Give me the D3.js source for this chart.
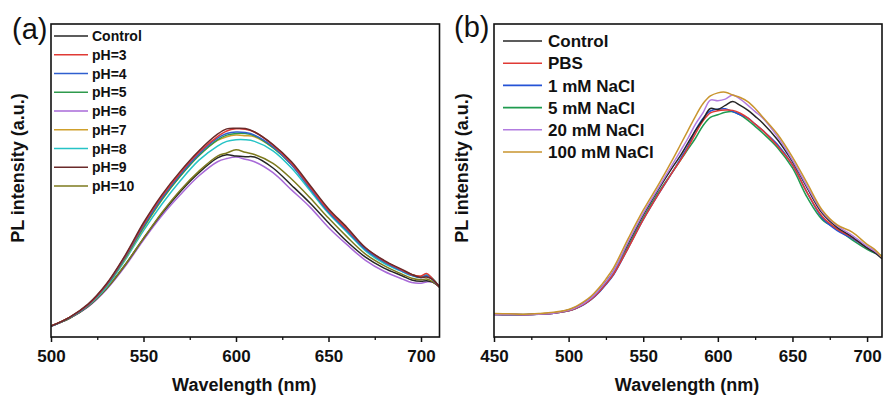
<!DOCTYPE html>
<html><head><meta charset="utf-8">
<script src="https://cdn.jsdelivr.net/npm/d3@7/dist/d3.min.js"></script>
<style>body{margin:0;background:#fff}svg{display:block}text{font-family:"Liberation Sans",Arial,sans-serif}</style>
</head><body><div id="chart"></div>
<script>
// ---------- Panel (a) data ----------
const wlA = [500,510,520,530,540,550,560,570,580,590,595,600,605,610,620,630,640,650,660,670,680,690,695,700,703,706,710];
const namesA = ["Control","pH=3","pH=4","pH=5","pH=6","pH=7","pH=8","pH=9","pH=10"];
const colorsA = ["#262626","#e03a35","#2f5fcf","#2e9a4c","#a86ad8","#cfa02c","#26c3c6","#6a2a2a","#7d7a1e"];
const controlA = [3.5,6,9.8,15.5,23,31.5,39.5,46.5,52.5,57.2,58.2,57.8,57.6,57.5,54,48.5,42.8,36.5,30.5,25.5,22,19.5,18.2,17.8,18,17.6,16];
const pH3 = [3.5,6.3,10.3,16.8,25.8,36,45,52.5,59,64,65.8,66.5,66.4,65.5,61.3,55.5,48,40.5,34.5,28.5,24.3,21.3,19.9,19.5,20.3,18.8,16];
const pH4 = [3.4,6.2,10.2,16.6,25.5,35.5,44.5,52,58.5,63.5,65,65.5,65.3,64.5,60.8,55,47.5,40,34,28,24,21,19.7,19,19.6,18.5,16];
const pH5 = [3.4,6.2,10.2,16.5,25.2,35,44,51.5,58,63,64.5,65,65,64.3,60.5,55,47.5,40,34,28,24,21.2,19.8,19.2,19.4,18.6,16];
const pH6 = [3.5,6,9.6,15.2,22.5,31,38.8,45.5,51.5,56,57,57.5,56.8,56,52.5,47,41.5,35,29.5,24.5,21,18.5,17.4,17.2,17.6,17.6,16];
const pH7 = [3.5,6.3,10.3,16.5,25,34.8,43.8,51.5,58,62.8,64,64.5,64.3,64,60.5,55.2,48,40.5,34.5,28.3,24.2,21.3,20,19.2,19.3,18.6,16];
const pH8 = [3.4,6.1,10,16,24.5,34,42.5,50,56.5,61,62.5,63,63,62.5,59.5,54,46.8,39.5,33.5,27.5,23.5,20.8,19.6,19,19.9,18.8,16];
const pH9 = [3.5,6.3,10.5,17,26,36.5,45.5,53,59.5,64.8,66.5,66.7,66.6,65.5,61.5,56,48.5,41,35,28.5,24.5,21.5,20,19,19.2,18.5,16];
const pH10 = [3.5,6,9.8,15.5,23,31.5,39.8,47,53,57.8,58.8,59.8,59,58.3,55.5,50.5,44.5,38,32,26.5,22.8,20,18.8,18.3,18.5,17.8,16];
const seriesA = [controlA,pH3,pH4,pH5,pH6,pH7,pH8,pH9,pH10];
const ticksA = [500,550,600,650,700];

// ---------- Panel (b) data ----------
const wlB = [450,460,470,480,490,500,505,510,515,520,525,530,540,550,560,570,575,580,585,590,595,600,605,610,615,620,625,630,640,650,660,670,680,690,700,705,710];
const namesB = ["Control","PBS","1 mM NaCl","5 mM NaCl","20 mM NaCl","100 mM NaCl"];
const colorsB = ["#262626","#e03a35","#2553d6","#1f9b4f","#b27ce0","#c9952e"];
const controlB = [7.3,7.2,7.2,7.4,7.7,8.6,9.5,10.8,12.5,14.8,17.6,21,30,39,47,54.5,58,62,66,69.5,73,72.7,74,75.2,74,72.5,70.5,68.4,63,56,47.5,39.5,35,32,28.5,27,25];
const pbs = [7.2,7.2,7.1,7.3,7.6,8.4,9.2,10.4,12,14.2,17,20,28.5,37.5,45.5,53,56.5,60.5,65,69,71.6,72.3,72.5,72.4,71.5,70,68,66,61,55,46,38.5,34.5,31.8,28.5,27.2,25.5];
const nacl1 = [7.2,7.1,7.1,7.3,7.6,8.4,9.2,10.3,11.9,14.1,16.8,19.8,28.5,37.5,45.5,53,57,61,66,69.8,72.2,72.8,72.9,72,71,70,68,66,61.5,55,46,38,34,31.5,28.5,27,25.5];
const nacl5 = [7.2,7.2,7.1,7.3,7.6,8.4,9.2,10.4,12,14.2,17,20,29,38,46,53,56.5,60,63.5,67.5,70.2,71,71.8,72,71,69.3,67.3,65.2,60.5,54,44.5,37.5,34.5,31,28,26.8,26];
const nacl20 = [7.2,7.2,7.1,7.3,7.6,8.5,9.4,10.7,12.4,14.8,17.6,21,30.5,39.5,47.5,55.5,59.5,63.5,68,71.6,75.7,75.5,76,77.3,76,74.1,72,70,64,56.5,48,40,35.5,32.5,29,27.5,25.5];
const nacl100 = [7.5,7.4,7.3,7.5,7.9,8.8,9.8,11.2,13,15.5,18.5,22,31.5,40.5,48.5,57,61.5,66,70.5,74.5,77,78,78.2,77.3,76.5,75.2,73,70.3,64.8,57.5,49,40.5,35.8,33.5,29.6,28,25.5];
const seriesB = [controlB,pbs,nacl1,nacl5,nacl20,nacl100];
const ticksB = [450,500,550,600,650,700];

const W = 884, H = 396;
const svg = d3.select("#chart").append("svg").attr("width", W).attr("height", H);

function panel(cfg) {
  const x = d3.scaleLinear().domain(cfg.xDomain).range([cfg.left, cfg.right]);
  const y = d3.scaleLinear().domain([0, 100]).range([cfg.bottom, cfg.top]);
  const g = svg.append("g");
  const clipId = "clip" + cfg.id;
  svg.append("clipPath").attr("id", clipId).append("rect")
    .attr("x", cfg.left).attr("y", cfg.top).attr("width", cfg.right - cfg.left).attr("height", cfg.bottom - cfg.top);

  const line = d3.line().x((d, i) => x(cfg.wl[i])).y(d => y(d)).curve(d3.curveCatmullRom.alpha(0.5));
  const cg = g.append("g").attr("clip-path", `url(#${clipId})`);
  cfg.order.forEach(k => {
    cg.append("path").attr("d", line(cfg.series[k])).attr("fill", "none")
      .attr("stroke", cfg.colors[k]).attr("stroke-width", 1.5).attr("stroke-linejoin", "round");
  });

  const minor = d3.range(cfg.xDomain[0], cfg.xDomain[1] + 1, 25).filter(v => !cfg.ticks.includes(v));
  const axMinor = d3.axisBottom(x).tickValues(minor).tickSize(3).tickFormat("");
  g.append("g").attr("transform", `translate(0,${cfg.bottom})`).call(axMinor)
    .call(s => s.select(".domain").remove())
    .call(s => s.selectAll("line").attr("stroke", "#111").attr("stroke-width", 1.3));
  const axMajor = d3.axisBottom(x).tickValues(cfg.ticks).tickSize(5).tickPadding(8).tickFormat(d3.format("d"));
  g.append("g").attr("transform", `translate(0,${cfg.bottom})`).call(axMajor)
    .call(s => s.select(".domain").remove())
    .call(s => s.selectAll("line").attr("stroke", "#111").attr("stroke-width", 1.5))
    .call(s => s.selectAll("text").attr("font-size", 17).attr("font-weight", "bold").attr("fill", "#111")
      .attr("font-family", '"Liberation Sans",Arial,sans-serif'));

  g.append("rect").attr("x", cfg.left).attr("y", cfg.top).attr("width", cfg.right - cfg.left)
    .attr("height", cfg.bottom - cfg.top).attr("fill", "none").attr("stroke", "#111").attr("stroke-width", 1.6);

  g.append("text").attr("x", (cfg.left + cfg.right) / 2 - 1).attr("y", 391).attr("text-anchor", "middle")
    .attr("font-size", 18).attr("font-weight", "bold").attr("fill", "#111").text("Wavelength (nm)");
  g.append("text").attr("transform", `translate(${cfg.yTitleX},${cfg.yTitleY}) rotate(-90)`)
    .attr("text-anchor", "middle").attr("font-size", 18).attr("font-weight", "bold").attr("fill", "#111")
    .text("PL intensity (a.u.)");
  g.append("text").attr("x", cfg.labelX).attr("y", cfg.labelY).attr("font-size", 29).attr("fill", "#111")
    .text(cfg.label);

  cfg.names.forEach((n, i) => {
    const yy = cfg.legY + i * cfg.legDy;
    g.append("line").attr("x1", cfg.legX1).attr("x2", cfg.legX2).attr("y1", yy).attr("y2", yy)
      .attr("stroke", cfg.colors[i]).attr("stroke-width", 1.6);
    g.append("text").attr("x", cfg.legX2 + cfg.legGap).attr("y", yy).attr("dy", "0.36em")
      .attr("font-size", cfg.legFont).attr("font-weight", "bold").attr("fill", "#111").text(n);
  });
}

panel({id: "a", xDomain: [500, 710], left: 51, right: 439.5, top: 24, bottom: 337,
  wl: wlA, series: seriesA, colors: colorsA, names: namesA, ticks: ticksA,
  order: [4,0,8,6,5,3,2,1,7],
  yTitleX: 24, yTitleY: 168, label: "(a)", labelX: 12, labelY: 39,
  legX1: 54, legX2: 88, legGap: 4, legY: 36, legDy: 18.75, legFont: 14});

panel({id: "b", xDomain: [450, 710], left: 494, right: 882, top: 24, bottom: 337,
  wl: wlB, series: seriesB, colors: colorsB, names: namesB, ticks: ticksB,
  order: [3,2,1,0,4,5],
  yTitleX: 468, yTitleY: 168, label: "(b)", labelX: 454, labelY: 37,
  legX1: 503, legX2: 542, legGap: 6, legY: 41, legDy: 22.2, legFont: 17});
</script></body></html>
